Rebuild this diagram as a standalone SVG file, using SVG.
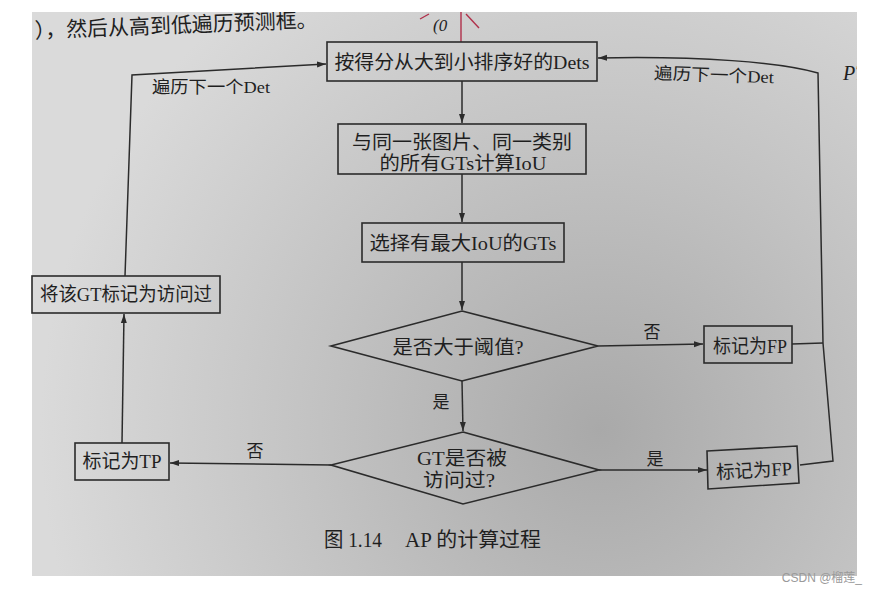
<svg xmlns="http://www.w3.org/2000/svg" width="878" height="594" viewBox="0 0 878 594">
<defs>
<radialGradient id="pg" cx="600" cy="430" r="560" gradientUnits="userSpaceOnUse">
<stop offset="0" stop-color="#a9a9a9"/>
<stop offset="0.5" stop-color="#c2c2c2"/>
<stop offset="1" stop-color="#dadada"/>
</radialGradient>
<marker id="ah" markerWidth="10" markerHeight="8" refX="9" refY="4" orient="auto" markerUnits="userSpaceOnUse">
<path d="M0,1 L9,4 L0,7 Z" fill="#2b2b2b"/>
</marker>
<clipPath id="page"><rect x="32" y="12" width="825" height="564"/></clipPath>
</defs>
<style>
.box{fill:none;stroke:#2b2b2b;stroke-width:1.6}
.conn{fill:none;stroke:#2b2b2b;stroke-width:1.5}
.arr{marker-end:url(#ah)}
text{font-family:"Liberation Serif","Noto Sans CJK SC",serif;fill:#1f1f1f}
.t{font-size:19px;text-anchor:middle}
.lbl{font-size:17px;text-anchor:middle}
</style>
<rect x="0" y="0" width="878" height="594" fill="#ffffff"/>
<rect x="32" y="12" width="825" height="564" fill="url(#pg)"/>
<g clip-path="url(#page)">
<text x="35" y="38" font-size="21" textLength="283" lengthAdjust="spacingAndGlyphs" transform="rotate(-2.2 35 38)">），然后从高到低遍历预测框。</text>
<text x="843" y="80" font-size="20" font-style="italic">PT</text>
<g id="annotation" stroke="#b0304a" stroke-width="1.4" fill="none">
<line x1="461" y1="12" x2="461" y2="42"/>
<line x1="466" y1="14" x2="479" y2="28"/>
<line x1="429" y1="14" x2="420" y2="19"/>
<text x="433" y="31" font-size="17" fill="#b0304a" stroke="none" font-style="italic">(0</text>
</g>
</g>
<g id="connectors">
<path class="conn arr" d="M462,81 L462,123"/>
<path class="conn arr" d="M462,174 L462,222"/>
<path class="conn arr" d="M462,262 L462,310"/>
<path class="conn arr" d="M462,381 L463,431"/>
<path class="conn arr" d="M598,346 L703,344"/>
<path class="conn arr" d="M599,470 L707,470"/>
<path class="conn arr" d="M331,465 L170,463"/>
<path class="conn arr" d="M122,443 L124,314"/>
<path class="conn arr" d="M125,276 L132,75 L326,64"/>
<path class="conn" d="M792,344 L823,343"/>
<path class="conn arr" d="M800,465 L833,461 L823,343 L818,73 C780,62 700,56 598,58"/>
</g>
<g id="n-sorted">
<rect class="box" x="327" y="42" width="270" height="39"/>
<text class="t" x="462" y="69" textLength="255" lengthAdjust="spacingAndGlyphs">按得分从大到小排序好的Dets</text>
</g>
<g id="n-iou">
<rect class="box" x="338" y="124" width="248" height="50"/>
<text class="t" x="462" y="149" textLength="220" lengthAdjust="spacingAndGlyphs">与同一张图片、同一类别</text>
<text class="t" x="463" y="170" textLength="167" lengthAdjust="spacingAndGlyphs">的所有GTs计算IoU</text>
</g>
<g id="n-maxiou">
<rect class="box" x="362" y="223" width="202" height="39"/>
<text class="t" x="463" y="250" textLength="187" lengthAdjust="spacingAndGlyphs">选择有最大IoU的GTs</text>
</g>
<g id="n-threshold">
<polygon class="box" points="462,311 598,346 462,381 331,346"/>
<text class="t" x="458" y="354" textLength="131" lengthAdjust="spacingAndGlyphs">是否大于阈值?</text>
</g>
<g id="n-visited">
<polygon class="box" points="463,432 599,470 463,504 331,465"/>
<text class="t" x="462" y="465" textLength="90" lengthAdjust="spacingAndGlyphs">GT是否被</text>
<text class="t" x="459" y="487" textLength="72" lengthAdjust="spacingAndGlyphs">访问过?</text>
</g>
<g id="n-fp1">
<rect class="box" x="704" y="326" width="88" height="37"/>
<text class="t" x="750" y="353" textLength="74" lengthAdjust="spacingAndGlyphs">标记为FP</text>
</g>
<g id="n-fp2">
<polygon class="box" points="707,451 797,446 799,483 708,489"/>
<text class="t" x="754" y="477" textLength="76" lengthAdjust="spacingAndGlyphs" transform="rotate(-3 754 470)">标记为FP</text>
</g>
<g id="n-tp">
<rect class="box" x="75" y="443" width="94" height="37"/>
<text class="t" x="122" y="468" textLength="79" lengthAdjust="spacingAndGlyphs">标记为TP</text>
</g>
<g id="n-mark">
<rect class="box" x="32" y="276" width="188" height="37"/>
<text class="t" x="126" y="301" textLength="172" lengthAdjust="spacingAndGlyphs">将该GT标记为访问过</text>
</g>
<g id="labels">
<text class="lbl" x="211" y="93" textLength="118" lengthAdjust="spacingAndGlyphs">遍历下一个Det</text>
<text class="lbl" x="714" y="81" textLength="120" lengthAdjust="spacingAndGlyphs" transform="rotate(2 714 75)">遍历下一个Det</text>
<text class="lbl" x="652" y="338" font-size="18">否</text>
<text class="lbl" x="441" y="408" font-size="18">是</text>
<text class="lbl" x="255" y="457" font-size="18">否</text>
<text class="lbl" x="655" y="465" font-size="18">是</text>
</g>
<g id="caption">
<text x="324" y="547" font-size="20" textLength="58" lengthAdjust="spacingAndGlyphs">图 1.14</text>
<text x="405" y="547" font-size="20" textLength="136" lengthAdjust="spacingAndGlyphs">AP 的计算过程</text>
</g>
<text x="862" y="582" font-size="12" text-anchor="end" style="fill:#9a9a9a;font-family:'Liberation Sans','Noto Sans CJK SC',sans-serif">CSDN @榴莲_</text>
</svg>
